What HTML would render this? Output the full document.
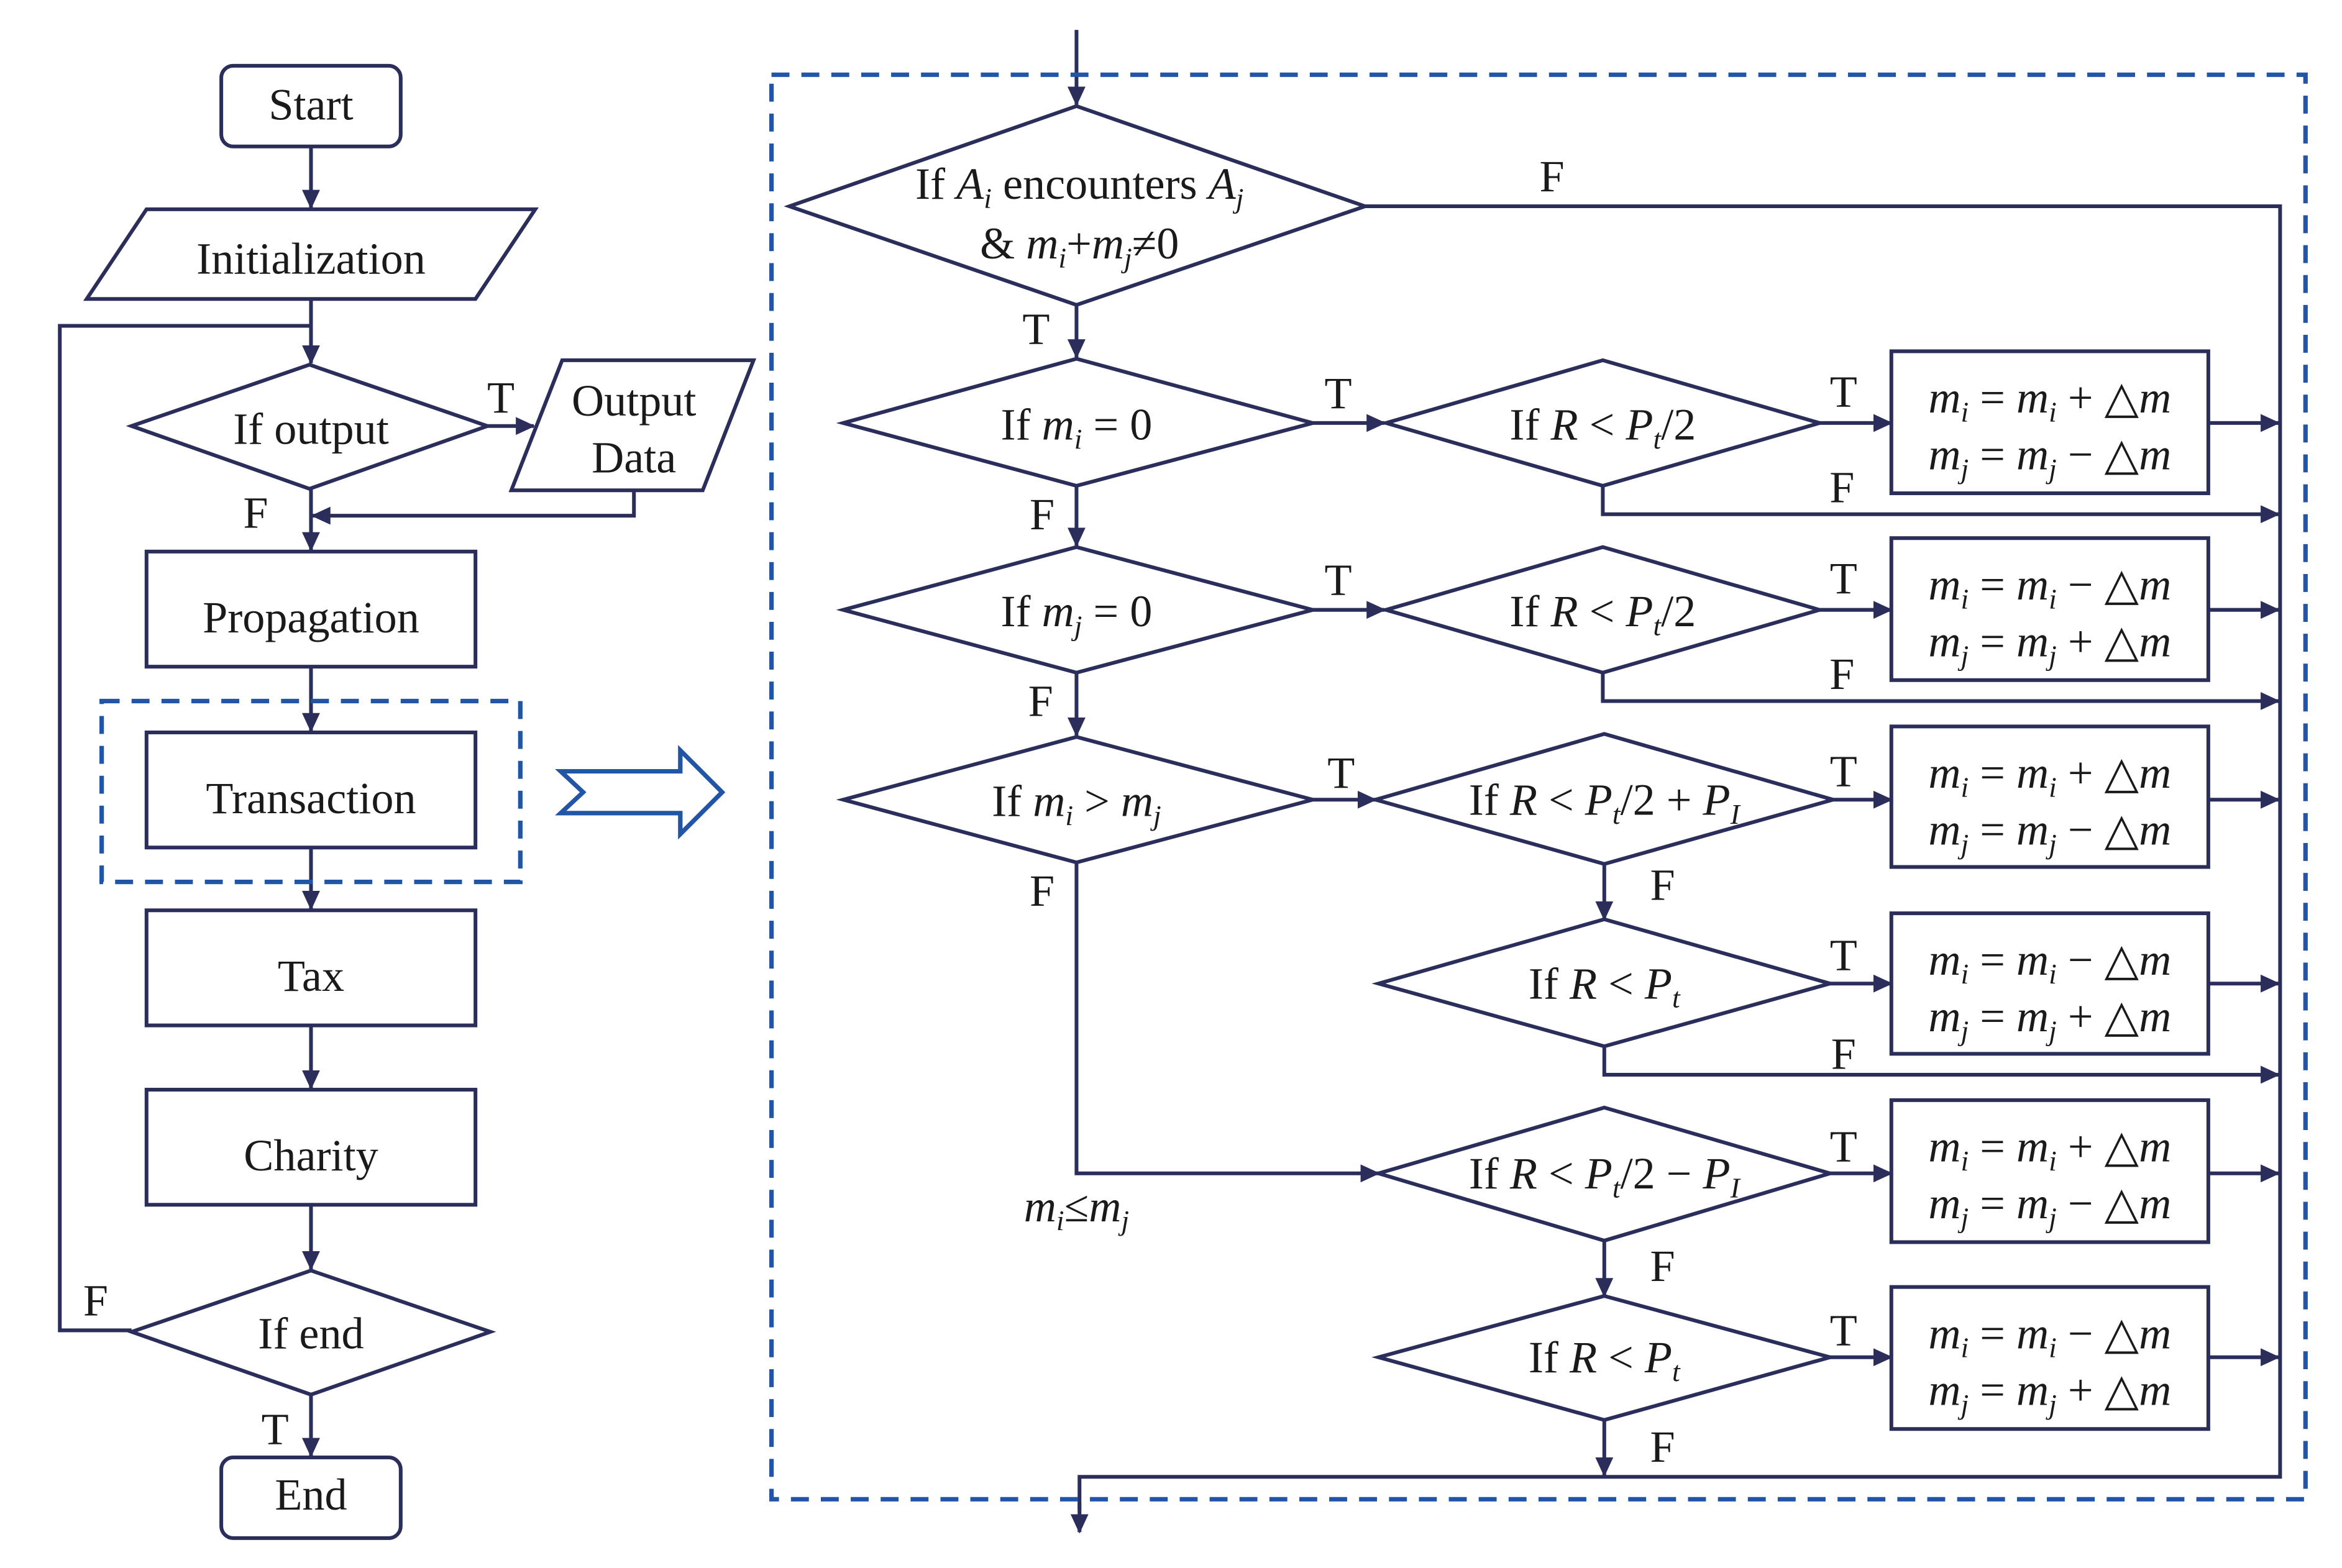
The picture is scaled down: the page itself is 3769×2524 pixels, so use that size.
<!DOCTYPE html>
<html><head><meta charset="utf-8"><style>
html,body{margin:0;padding:0;background:#fff;}
svg{display:block;}
text{font-family:"Liberation Serif",serif;fill:#1a1a1a;font-size:30px;}
.i{font-style:italic;}
</style></head><body>
<svg width="3769" height="2524" viewBox="0 0 1566.4 1049" preserveAspectRatio="none" xmlns="http://www.w3.org/2000/svg">
<defs>
<marker id="a" markerWidth="13" markerHeight="12" refX="12" refY="6" orient="auto" markerUnits="userSpaceOnUse" viewBox="0 0 13 12"><path d="M0,0 L13,6 L0,12 z" fill="#2b2e5a"/></marker>
</defs>
<g fill="none" stroke="#2b2e5a" stroke-width="2.5">
<rect x="148" y="44" width="120" height="54" rx="8"/>
<line x1="208" y1="98" x2="208" y2="139" marker-end="url(#a)"/>
<polygon points="58,200 98,140 358,140 318,200"/>
<line x1="208" y1="200" x2="208" y2="243" marker-end="url(#a)"/>
<polyline points="88,890 40,890 40,218 208,218" />
<polygon points="88,285 207,244 326,285 207,327"/>
<line x1="326" y1="285" x2="357" y2="285" marker-end="url(#a)"/>
<polygon points="342,328 376,241 504,241 470,328"/>
<polyline points="424,328 424,345 209,345" marker-end="url(#a)"/>
<line x1="208" y1="327" x2="208" y2="368" marker-end="url(#a)"/>
<rect x="98" y="369" width="220" height="77"/>
<line x1="208" y1="446" x2="208" y2="489" marker-end="url(#a)"/>
<rect x="98" y="490" width="220" height="77"/>
<line x1="208" y1="567" x2="208" y2="608" marker-end="url(#a)"/>
<rect x="98" y="609" width="220" height="77"/>
<line x1="208" y1="686" x2="208" y2="728" marker-end="url(#a)"/>
<rect x="98" y="729" width="220" height="77"/>
<line x1="208" y1="806" x2="208" y2="849" marker-end="url(#a)"/>
<polygon points="88,891 208,850 328,891 208,933"/>
<line x1="208" y1="933" x2="208" y2="974" marker-end="url(#a)"/>
<rect x="148" y="975" width="120" height="54" rx="8"/>

<line x1="720" y1="20" x2="720" y2="70" marker-end="url(#a)"/>
<polygon points="528,138 720,71 913,138 720,204"/>
<polyline points="913,138 1525,138 1525,988 722,988 722,1010" />
<line x1="722" y1="1005" x2="722" y2="1025" marker-end="url(#a)"/>
<line x1="720" y1="204" x2="720" y2="239" marker-end="url(#a)"/>

<polygon points="564,283 720,240 878,283 720,325"/>
<line x1="878" y1="283" x2="926" y2="283" marker-end="url(#a)"/>
<polygon points="927,283 1072,241 1217,283 1072,325"/>
<line x1="1217" y1="283" x2="1265" y2="283" marker-end="url(#a)"/>
<rect x="1265" y="235" width="212" height="95"/>
<line x1="1477" y1="283" x2="1524" y2="283" marker-end="url(#a)"/>
<polyline points="1072,325 1072,344 1524,344" marker-end="url(#a)"/>
<line x1="720" y1="325" x2="720" y2="365" marker-end="url(#a)"/>

<polygon points="564,408 720,366 878,408 720,450"/>
<line x1="878" y1="408" x2="926" y2="408" marker-end="url(#a)"/>
<polygon points="927,408 1072,366 1217,408 1072,450"/>
<line x1="1217" y1="408" x2="1265" y2="408" marker-end="url(#a)"/>
<rect x="1265" y="360" width="212" height="95"/>
<line x1="1477" y1="408" x2="1524" y2="408" marker-end="url(#a)"/>
<polyline points="1072,450 1072,469 1524,469" marker-end="url(#a)"/>
<line x1="720" y1="450" x2="720" y2="492" marker-end="url(#a)"/>

<polygon points="564,535 720,493 878,535 720,577"/>
<line x1="878" y1="535" x2="920" y2="535" marker-end="url(#a)"/>
<polygon points="920,535 1073,491 1226,535 1073,578"/>
<line x1="1226" y1="535" x2="1265" y2="535" marker-end="url(#a)"/>
<rect x="1265" y="486" width="212" height="94"/>
<line x1="1477" y1="535" x2="1524" y2="535" marker-end="url(#a)"/>
<line x1="1073" y1="578" x2="1073" y2="615" marker-end="url(#a)"/>

<polygon points="922,658 1073,615 1224,658 1073,700"/>
<line x1="1224" y1="658" x2="1265" y2="658" marker-end="url(#a)"/>
<rect x="1265" y="611" width="212" height="94"/>
<line x1="1477" y1="658" x2="1524" y2="658" marker-end="url(#a)"/>
<polyline points="1073,700 1073,719 1524,719" marker-end="url(#a)"/>

<polyline points="720,577 720,785 922,785" marker-end="url(#a)"/>
<polygon points="922,785 1073,741 1224,785 1073,830"/>
<line x1="1224" y1="785" x2="1265" y2="785" marker-end="url(#a)"/>
<rect x="1265" y="736" width="212" height="95"/>
<line x1="1477" y1="785" x2="1524" y2="785" marker-end="url(#a)"/>
<line x1="1073" y1="830" x2="1073" y2="867" marker-end="url(#a)"/>

<polygon points="922,908 1073,867 1224,908 1073,950"/>
<line x1="1224" y1="908" x2="1265" y2="908" marker-end="url(#a)"/>
<rect x="1265" y="861" width="212" height="95"/>
<line x1="1477" y1="908" x2="1524" y2="908" marker-end="url(#a)"/>
<line x1="1073" y1="950" x2="1073" y2="987" marker-end="url(#a)"/>
</g>
<g fill="none" stroke="#2255a5" stroke-width="3" stroke-dasharray="12,8">
<rect x="68" y="469" width="280" height="121"/>
<rect x="516" y="50" width="1026" height="953"/>
</g>
<polygon points="375,516 455,516 455,502 483,530 455,558 455,544 375,544 390,530" fill="none" stroke="#2255a5" stroke-width="3"/>

<g text-anchor="middle">
<text x="208" y="80">Start</text>
<text x="208" y="183">Initialization</text>
<text x="208" y="297">If output</text>
<text x="424" y="278">Output</text>
<text x="424" y="316">Data</text>
<text x="208" y="423">Propagation</text>
<text x="208" y="544">Transaction</text>
<text x="208" y="663">Tax</text>
<text x="208" y="783">Charity</text>
<text x="208" y="902">If end</text>
<text x="208" y="1010">End</text>
<text x="335" y="276">T</text>
<text x="171" y="353">F</text>
<text x="64" y="880">F</text>
<text x="184" y="966">T</text>
</g>

<g text-anchor="middle">
<text x="1038" y="128">F</text>
<text x="693" y="230">T</text>
<text x="697" y="354">F</text>
<text x="696" y="479">F</text>
<text x="697" y="606">F</text>
<text x="895" y="273">T</text>
<text x="895" y="398">T</text>
<text x="897" y="527">T</text>
<text x="1233" y="272">T</text>
<text x="1233" y="397">T</text>
<text x="1233" y="526">T</text>
<text x="1233" y="649">T</text>
<text x="1233" y="777">T</text>
<text x="1233" y="900">T</text>
<text x="1232" y="336">F</text>
<text x="1232" y="461">F</text>
<text x="1112" y="602">F</text>
<text x="1233" y="715">F</text>
<text x="1112" y="857">F</text>
<text x="1112" y="978">F</text>
</g>

<g text-anchor="middle">
<text x="722" y="133">If <tspan class="i">A</tspan><tspan class="i" font-size="19" dy="6">i</tspan><tspan dy="-6"> encounters </tspan><tspan class="i">A</tspan><tspan class="i" font-size="19" dy="6">j</tspan></text>
<text x="722" y="173">&amp; <tspan class="i">m</tspan><tspan class="i" font-size="19" dy="6">i</tspan><tspan dy="-6">+</tspan><tspan class="i">m</tspan><tspan class="i" font-size="19" dy="6">j</tspan><tspan dy="-6">≠0</tspan></text>
<text x="720" y="294">If <tspan class="i">m</tspan><tspan class="i" font-size="19" dy="6">i</tspan><tspan dy="-6"> = 0</tspan></text>
<text x="720" y="419">If <tspan class="i">m</tspan><tspan class="i" font-size="19" dy="6">j</tspan><tspan dy="-6"> = 0</tspan></text>
<text x="720" y="546">If <tspan class="i">m</tspan><tspan class="i" font-size="19" dy="6">i</tspan><tspan dy="-6"> &gt; </tspan><tspan class="i">m</tspan><tspan class="i" font-size="19" dy="6">j</tspan></text>
<text x="1072" y="294">If <tspan class="i">R</tspan> &lt; <tspan class="i">P</tspan><tspan class="i" font-size="19" dy="6">t</tspan><tspan dy="-6">/2</tspan></text>
<text x="1072" y="419">If <tspan class="i">R</tspan> &lt; <tspan class="i">P</tspan><tspan class="i" font-size="19" dy="6">t</tspan><tspan dy="-6">/2</tspan></text>
<text x="1073" y="545">If <tspan class="i">R</tspan> &lt; <tspan class="i">P</tspan><tspan class="i" font-size="19" dy="6">t</tspan><tspan dy="-6">/2 + </tspan><tspan class="i">P</tspan><tspan class="i" font-size="19" dy="6">I</tspan></text>
<text x="1073" y="668">If <tspan class="i">R</tspan> &lt; <tspan class="i">P</tspan><tspan class="i" font-size="19" dy="6">t</tspan></text>
<text x="1073" y="795">If <tspan class="i">R</tspan> &lt; <tspan class="i">P</tspan><tspan class="i" font-size="19" dy="6">t</tspan><tspan dy="-6">/2 − </tspan><tspan class="i">P</tspan><tspan class="i" font-size="19" dy="6">I</tspan></text>
<text x="1073" y="918">If <tspan class="i">R</tspan> &lt; <tspan class="i">P</tspan><tspan class="i" font-size="19" dy="6">t</tspan></text>
<text x="720" y="817"><tspan class="i">m</tspan><tspan class="i" font-size="19" dy="6">i</tspan><tspan dy="-6">≤</tspan><tspan class="i">m</tspan><tspan class="i" font-size="19" dy="6">j</tspan></text>
</g>

<g text-anchor="middle">
<text x="1371" y="276"><tspan class="i">m</tspan><tspan class="i" font-size="19" dy="6">i</tspan><tspan dy="-6"> = </tspan><tspan class="i">m</tspan><tspan class="i" font-size="19" dy="6">i</tspan><tspan dy="-6"> + △</tspan><tspan class="i">m</tspan></text>
<text x="1371" y="314"><tspan class="i">m</tspan><tspan class="i" font-size="19" dy="6">j</tspan><tspan dy="-6"> = </tspan><tspan class="i">m</tspan><tspan class="i" font-size="19" dy="6">j</tspan><tspan dy="-6"> − △</tspan><tspan class="i">m</tspan></text>
<text x="1371" y="401"><tspan class="i">m</tspan><tspan class="i" font-size="19" dy="6">i</tspan><tspan dy="-6"> = </tspan><tspan class="i">m</tspan><tspan class="i" font-size="19" dy="6">i</tspan><tspan dy="-6"> − △</tspan><tspan class="i">m</tspan></text>
<text x="1371" y="439"><tspan class="i">m</tspan><tspan class="i" font-size="19" dy="6">j</tspan><tspan dy="-6"> = </tspan><tspan class="i">m</tspan><tspan class="i" font-size="19" dy="6">j</tspan><tspan dy="-6"> + △</tspan><tspan class="i">m</tspan></text>
<text x="1371" y="527"><tspan class="i">m</tspan><tspan class="i" font-size="19" dy="6">i</tspan><tspan dy="-6"> = </tspan><tspan class="i">m</tspan><tspan class="i" font-size="19" dy="6">i</tspan><tspan dy="-6"> + △</tspan><tspan class="i">m</tspan></text>
<text x="1371" y="565"><tspan class="i">m</tspan><tspan class="i" font-size="19" dy="6">j</tspan><tspan dy="-6"> = </tspan><tspan class="i">m</tspan><tspan class="i" font-size="19" dy="6">j</tspan><tspan dy="-6"> − △</tspan><tspan class="i">m</tspan></text>
<text x="1371" y="652"><tspan class="i">m</tspan><tspan class="i" font-size="19" dy="6">i</tspan><tspan dy="-6"> = </tspan><tspan class="i">m</tspan><tspan class="i" font-size="19" dy="6">i</tspan><tspan dy="-6"> − △</tspan><tspan class="i">m</tspan></text>
<text x="1371" y="690"><tspan class="i">m</tspan><tspan class="i" font-size="19" dy="6">j</tspan><tspan dy="-6"> = </tspan><tspan class="i">m</tspan><tspan class="i" font-size="19" dy="6">j</tspan><tspan dy="-6"> + △</tspan><tspan class="i">m</tspan></text>
<text x="1371" y="777"><tspan class="i">m</tspan><tspan class="i" font-size="19" dy="6">i</tspan><tspan dy="-6"> = </tspan><tspan class="i">m</tspan><tspan class="i" font-size="19" dy="6">i</tspan><tspan dy="-6"> + △</tspan><tspan class="i">m</tspan></text>
<text x="1371" y="815"><tspan class="i">m</tspan><tspan class="i" font-size="19" dy="6">j</tspan><tspan dy="-6"> = </tspan><tspan class="i">m</tspan><tspan class="i" font-size="19" dy="6">j</tspan><tspan dy="-6"> − △</tspan><tspan class="i">m</tspan></text>
<text x="1371" y="902"><tspan class="i">m</tspan><tspan class="i" font-size="19" dy="6">i</tspan><tspan dy="-6"> = </tspan><tspan class="i">m</tspan><tspan class="i" font-size="19" dy="6">i</tspan><tspan dy="-6"> − △</tspan><tspan class="i">m</tspan></text>
<text x="1371" y="940"><tspan class="i">m</tspan><tspan class="i" font-size="19" dy="6">j</tspan><tspan dy="-6"> = </tspan><tspan class="i">m</tspan><tspan class="i" font-size="19" dy="6">j</tspan><tspan dy="-6"> + △</tspan><tspan class="i">m</tspan></text>
</g>
</svg>
</body></html>
